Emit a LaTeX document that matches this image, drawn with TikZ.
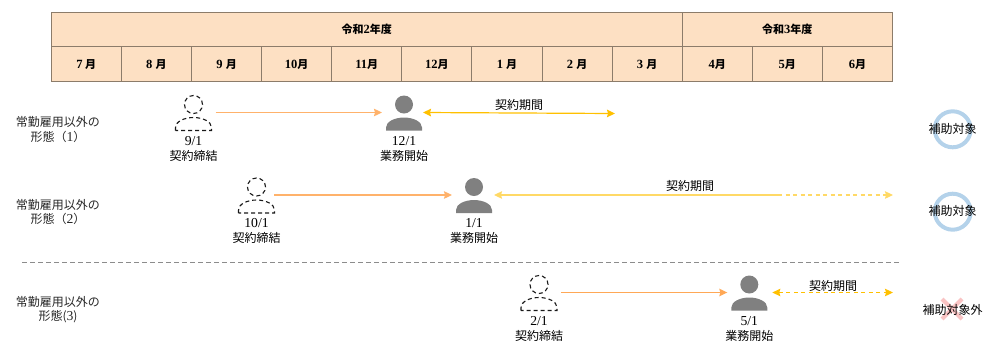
\documentclass[tikz,border=0pt]{standalone}
\usepackage{fontspec}
\setmainfont{Noto Sans CJK JP}
\newfontfamily\numfont[Scale=1.14]{Liberation Serif}
\usetikzlibrary{positioning}
\usetikzlibrary{arrows.meta}
\definecolor{cellfill}{HTML}{FDE0C3}
\definecolor{celledge}{HTML}{8C7C6A}
\definecolor{signline}{HTML}{FFB26B}
\definecolor{spanline}{HTML}{FFC000}
\definecolor{spanpale}{HTML}{FFD966}
\definecolor{okring}{HTML}{B4D2EA}
\definecolor{ngcross}{HTML}{F9C4C4}
\tikzstyle{month_c} = [draw=celledge, fill=cellfill, line width=1pt, outer sep=0pt, minimum width=70.1pt, minimum height=35pt, inner sep=0pt, font=\fontsize{11}{13}\selectfont\bfseries]
\tikzstyle{year_c} = [month_c, minimum height=34.7pt]
\tikzstyle{person_b} = [minimum width=44pt, minimum height=36pt, inner sep=0pt, outer sep=0pt]
\tikzstyle{date_t} = [align=center, inner sep=0pt, font=\fontsize{12}{15}\selectfont]
\tikzstyle{form_t} = [align=center, inner sep=0pt, font=\fontsize{12}{14.7}\selectfont, text=black!85]
\tikzstyle{span_t} = [inner sep=0pt, font=\fontsize{12}{14}\selectfont]
\tikzstyle{sign_a} = [->, draw=signline, line width=1.2pt]
\tikzstyle{span_a} = [<->, draw=spanline, line width=1.2pt]
\tikzset{
  person_solid/.pic={
    \fill[black!50] (0,-8) circle [radius=9pt];
    \fill[black!50] (-18,18) -- (-18,15) .. controls (-18,9) and (-9,5) .. (0,5) .. controls (9,5) and (18,9) .. (18,15) -- (18,18) -- cycle;
  },
  person_dash/.pic={
    \draw[black!90, line width=1.1pt, dash pattern=on 4pt off 3pt] (0,-8) circle [radius=9pt];
    \draw[black!90, line width=1.1pt, dash pattern=on 4pt off 3pt] (-18,18) -- (-18,15) .. controls (-18,9) and (-9,5) .. (0,5) .. controls (9,5) and (18,9) .. (18,15) -- (18,18) -- cycle;
  }
}

\begin{document}
\begin{tikzpicture}[x=1pt,y=-1pt,>={Stealth[length=8pt,width=7.5pt,inset=1pt]}]
\useasboundingbox (0,0) rectangle (993,360);

% table
\node [year_c, minimum width=630.9pt, anchor=north west] (y2) at (51.3,12) {令和{\numfont 2}年度};
\node [year_c, minimum width=210.3pt, right=0pt of y2] (y3) {令和{\numfont 3}年度};
\node [month_c, anchor=north west] (m1) at (51.3,46.7) {{\numfont 7} 月};
\foreach \lab [count=\i from 2, remember=\i as \j (initially 1)] in {{8 },{9 },10,11,12,{1 },{2 },{3 },4,5,6}
    \node [month_c, right=0pt of m\j] (m\i) {{\numfont\lab}月};

% persons
\foreach \nm/\px/\py/\dt/\kind/\txt in {
    sign1/193.5/112.5/{9/1}/person_dash/契約締結,
    start1/404/112.5/{12/1}/person_solid/業務開始,
    sign2/256.5/195/{10/1}/person_dash/契約締結,
    start2/474/195/{1/1}/person_solid/業務開始,
    sign3/539/292.5/{2/1}/person_dash/契約締結,
    start3/749.3/292.5/{5/1}/person_solid/業務開始}{
    \node [person_b] (\nm) at (\px,\py) {};
    \pic at (\nm) {\kind};
    \node [date_t, below=5.5pt of \nm] (\nm t) {{\numfont\dt}\\\txt};
}

% forms
\node [form_t] (form1) at (58,129.5) {常勤雇用以外の\\形態（{\numfont 1}）};
\node [form_t] (form2) at (58,212) {常勤雇用以外の\\形態（{\numfont 2}）};
\node [form_t] (form3) at (58,309.5) {常勤雇用以外の\\形態({\numfont 3})};

% contract arrows
\draw [sign_a] (sign1.east) -- (start1.west);
\draw [sign_a] ([xshift=-4.5pt]sign2.east) -- (start2.west);
\draw [sign_a, draw=signline!80!orange] (sign3.east) -- (start3.west);

% periods
\coordinate (end1) at (615,113.5);
\coordinate (mid2) at (778,195);
\coordinate (end2) at (893,195);
\coordinate (end3) at (893,292.5);
\draw [span_a] ([xshift=-3pt]start1.east) -- (end1);
\node [span_t] (per1) at (519,105) {契約期間};
\draw [<-, draw=spanpale, line width=1.2pt] ([xshift=-2pt]start2.east) -- (mid2);
\draw [->, draw=spanpale, line width=1.2pt, dash pattern=on 4pt off 3.5pt] (mid2) -- (end2);
\node [span_t] (per2) at (690,186) {契約期間};
\draw [span_a, dash pattern=on 4pt off 3.5pt] ([xshift=1pt]start3.east) -- (end3);
\node [span_t] (per3) at (833,285.5) {契約期間};

% divider
\coordinate (divl) at (22,262);
\coordinate (divr) at (900,262);
\draw [black!45, line width=1pt, dash pattern=on 5pt off 3pt] (divl) -- (divr);

% results
\draw [okring, line width=4pt] (952.7,129.3) circle [radius=18pt];
\draw [okring, line width=4pt] (952.7,211.7) circle [radius=18pt];
\draw [ngcross, line width=4pt] (942,299) -- (962,319) (962,299) -- (942,319);
\node [span_t] (res1) at (952.5,129) {補助対象};
\node [span_t] (res2) at (952.5,211) {補助対象};
\node [span_t] (res3) at (952.5,309.5) {補助対象外};
\end{tikzpicture}
\end{document}
